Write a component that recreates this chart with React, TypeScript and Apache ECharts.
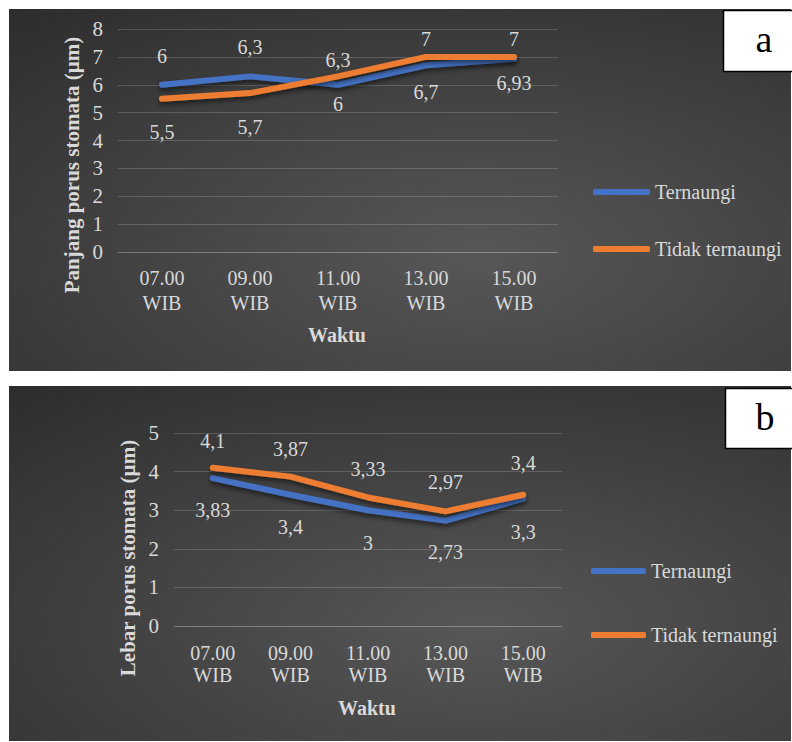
import React, { useEffect, useRef } from "react";
import * as echarts from "echarts";

const categories = ["07.00\nWIB", "09.00\nWIB", "11.00\nWIB", "13.00\nWIB", "15.00\nWIB"];
const seriesNames = ["Ternaungi", "Tidak ternaungi"];

// Panel a: Panjang porus stomata (µm)
const panjangTernaungi = [6, 6.3, 6, 6.7, 6.93];
const panjangTidak = [5.5, 5.7, 6.3, 7, 7];
// Panel b: Lebar porus stomata (µm)
const lebarTernaungi = [3.83, 3.4, 3, 2.73, 3.3];
const lebarTidak = [4.1, 3.87, 3.33, 2.97, 3.4];

const yTicksA = { min: 0, max: 8, interval: 1 };
const yTicksB = { min: 0, max: 5, interval: 1 };

// label placement (style, separate from values)
const posATern = [["top", 19], ["top", 19], ["bottom", 9], ["bottom", 17], ["bottom", 14]];
const posATidak = [["bottom", 23], ["bottom", 24], ["top", 6], ["top", 8], ["top", 8]];
const posBTern = [["bottom", 22], ["bottom", 22], ["bottom", 23], ["bottom", 21], ["bottom", 23]];
const posBTidak = [["top", 16], ["top", 17], ["top", 18], ["top", 19], ["top", 22]];

const FONT = "'Liberation Serif', 'Times New Roman', serif";
const TXT = "#d9d9d9";
const GRID = "rgba(255,255,255,0.17)";
const BLUE = "#4472C4";
const ORANGE = "#ED7D31";

function withLabels(values: number[], pos: any[]) {
  return values.map((v, i) => ({
    value: v,
    label: { position: pos[i][0], distance: pos[i][1], fontFamily: FONT, fontSize: 20, color: TXT },
  }));
}

function bg(x: number, y: number, w: number, h: number) {
  return {
    type: "rect",
    z: -10,
    shape: { x, y, width: w, height: h },
    style: {
      fill: new echarts.graphic.RadialGradient(0.6, 0.68, 1.05, [
        { offset: 0, color: "#575757" },
        { offset: 1, color: "#262626" },
      ]),
    },
    silent: true,
  };
}

function lineSeries(name: string, color: string, data: any[], idx: number) {
  return {
    name,
    type: "line",
    xAxisIndex: idx,
    yAxisIndex: idx,
    data,
    symbol: "circle",
    symbolSize: 0.5,
    showSymbol: true,
    lineStyle: {
      color,
      width: 6,
      cap: "round",
      join: "round",
      shadowColor: "rgba(0,0,0,0.55)",
      shadowBlur: 5,
      shadowOffsetY: 3,
    },
    itemStyle: { color, borderWidth: 0 },
    label: {
      show: true,
      color: TXT,
      fontSize: 20,
      fontFamily: FONT,
      formatter: (p: any) => String(p.value).replace(".", ","),
    },
    labelLayout: { hideOverlap: false },
    emphasis: { disabled: true },
  };
}

export default function App() {
  const ref = useRef<HTMLDivElement>(null);
  useEffect(() => {
    const chart = echarts.init(ref.current!, null, { renderer: "svg" });
    const axisX = (gi: number, margin: number, lh: number) => ({
      type: "category",
      gridIndex: gi,
      data: categories,
      boundaryGap: true,
      axisTick: { show: false },
      axisLine: { lineStyle: { color: GRID, width: 1 } },
      axisLabel: { color: TXT, fontSize: 20, fontFamily: FONT, margin, lineHeight: lh, interval: 0 },
    });
    const axisY = (gi: number, t: any) => ({
      type: "value",
      gridIndex: gi,
      min: t.min,
      max: t.max,
      interval: t.interval,
      axisLine: { show: false },
      axisTick: { show: false },
      splitLine: { lineStyle: { color: GRID, width: 1 } },
      axisLabel: { color: TXT, fontSize: 21, fontFamily: FONT, margin: 15 },
    });
    const legend = (left: number, top: number, gap: number, w: number) => ({
      orient: "vertical",
      left,
      top,
      data: seriesNames,
      icon: "roundRect",
      itemWidth: w,
      itemHeight: 6,
      itemGap: gap,
      selectedMode: false,
      textStyle: { color: TXT, fontSize: 20, fontFamily: FONT },
    });
    chart.setOption({
      animation: false,
      backgroundColor: "#ffffff",
      grid: [
        { left: 118, top: 29, width: 440, height: 223 },
        { left: 174, top: 433, width: 388, height: 193 },
      ],
      xAxis: [axisX(0, 13, 25), axisX(1, 16, 22)],
      yAxis: [axisY(0, yTicksA), axisY(1, yTicksB)],
      legend: [legend(588, 177, 37, 57), legend(586, 556, 44, 55)],
      series: [
        lineSeries(seriesNames[0], BLUE, withLabels(panjangTernaungi, posATern), 0),
        lineSeries(seriesNames[1], ORANGE, withLabels(panjangTidak, posATidak), 0),
        lineSeries(seriesNames[0], BLUE, withLabels(lebarTernaungi, posBTern), 1),
        lineSeries(seriesNames[1], ORANGE, withLabels(lebarTidak, posBTidak), 1),
      ],
      graphic: [
        bg(9, 9, 782, 362),
        bg(9, 386, 782, 355),
        {
          type: "text",
          x: 72,
          y: 165,
          rotation: Math.PI / 2,
          style: {
            text: "Panjang porus stomata (µm)",
            fill: TXT,
            font: `bold 21px ${FONT}`,
            align: "center",
            verticalAlign: "middle",
          },
        },
        {
          type: "text",
          x: 128,
          y: 558,
          rotation: Math.PI / 2,
          style: {
            text: "Lebar porus stomata (µm)",
            fill: TXT,
            font: `bold 21px ${FONT}`,
            align: "center",
            verticalAlign: "middle",
          },
        },
        {
          type: "text",
          x: 337,
          y: 335,
          style: { text: "Waktu", fill: TXT, font: `bold 20px ${FONT}`, align: "center", verticalAlign: "middle" },
        },
        {
          type: "text",
          x: 367,
          y: 708,
          style: { text: "Waktu", fill: TXT, font: `bold 20px ${FONT}`, align: "center", verticalAlign: "middle" },
        },
        {
          type: "rect",
          z: 100,
          shape: { x: 723.5, y: 10.5, width: 70, height: 61 },
          style: { fill: "#ffffff", stroke: "#000000", lineWidth: 1.5 },
        },
        {
          type: "text",
          z: 101,
          x: 764,
          y: 39,
          style: { text: "a", fill: "#000", font: `38px ${FONT}`, align: "center", verticalAlign: "middle" },
        },
        {
          type: "rect",
          z: 100,
          shape: { x: 725.5, y: 388.5, width: 70, height: 60 },
          style: { fill: "#ffffff", stroke: "#000000", lineWidth: 1.5 },
        },
        {
          type: "text",
          z: 101,
          x: 765,
          y: 417,
          style: { text: "b", fill: "#000", font: `38px ${FONT}`, align: "center", verticalAlign: "middle" },
        },
      ],
    });
    return () => chart.dispose();
  }, []);
  return (
    <div
      ref={ref}
      style={{ position: "absolute", left: 0, top: 0, width: 792, height: 742, background: "#fff" }}
    />
  );
}
